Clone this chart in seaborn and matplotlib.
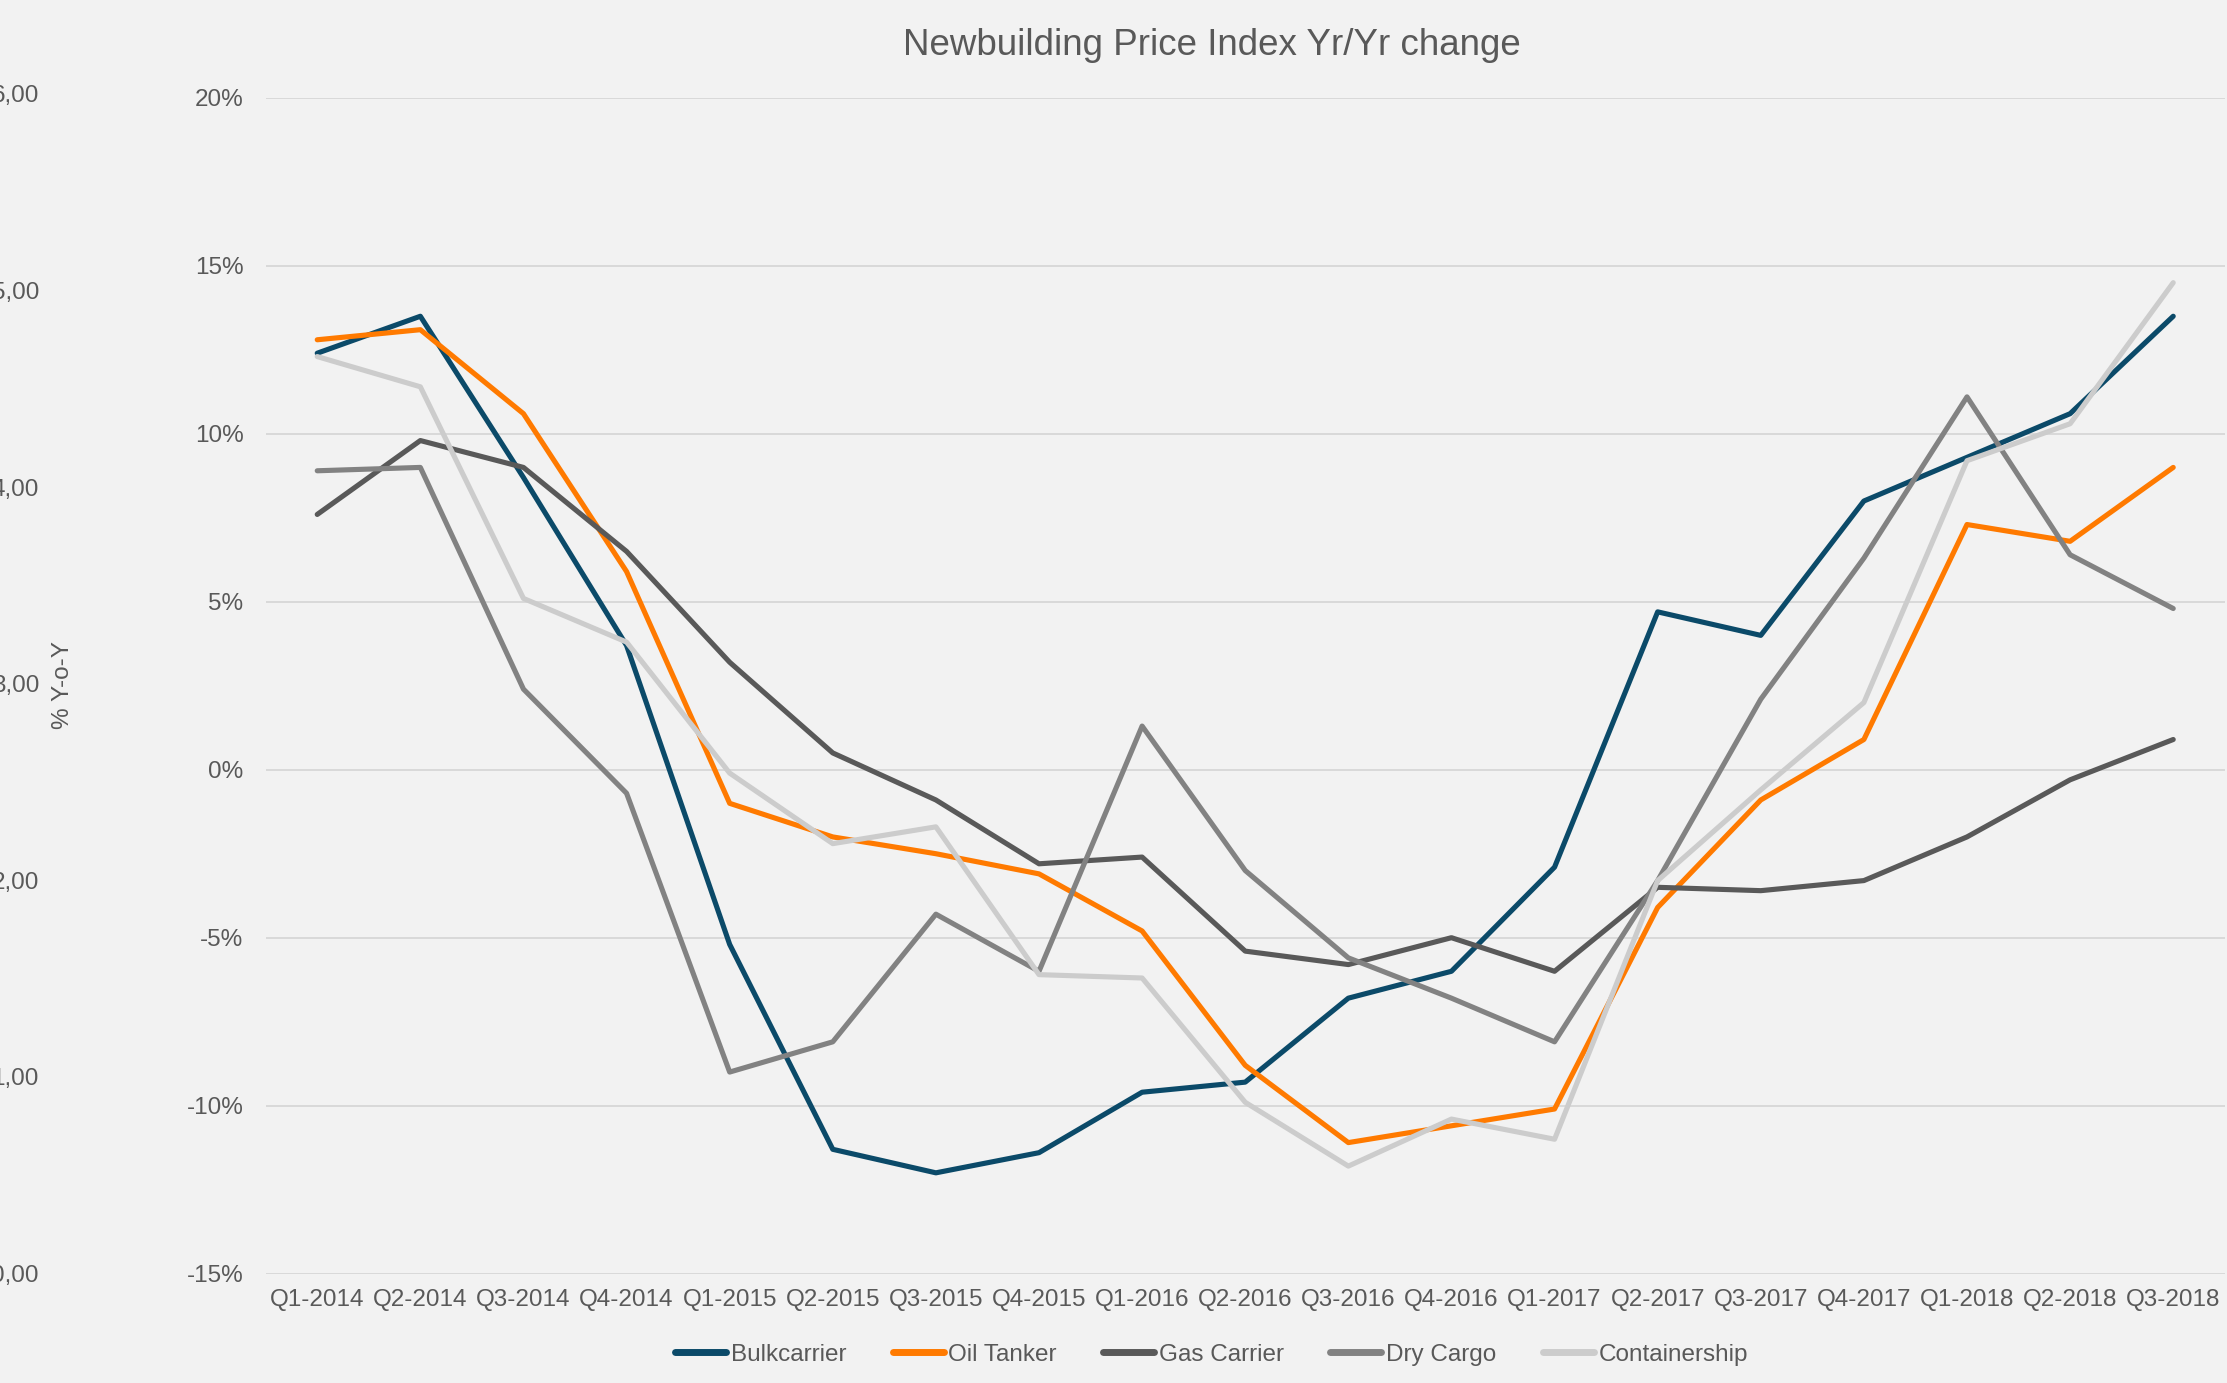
import matplotlib
matplotlib.use("Agg")
import matplotlib.pyplot as plt
import matplotlib.ticker as mticker
import pandas as pd
import seaborn as sns

quarters = [
    "Q1-2014", "Q2-2014", "Q3-2014", "Q4-2014",
    "Q1-2015", "Q2-2015", "Q3-2015", "Q4-2015",
    "Q1-2016", "Q2-2016", "Q3-2016", "Q4-2016",
    "Q1-2017", "Q2-2017", "Q3-2017", "Q4-2017",
    "Q1-2018", "Q2-2018", "Q3-2018",
]

bulkcarrier = [12.4, 13.5, 8.7, 3.7, -5.2, -11.3, -12.0, -11.4, -9.6, -9.3, -6.8, -6.0,
               -2.9, 4.7, 4.0, 8.0, 9.3, 10.6, 13.5]
oil_tanker = [12.8, 13.1, 10.6, 5.9, -1.0, -2.0, -2.5, -3.1, -4.8, -8.8, -11.1, -10.6,
              -10.1, -4.1, -0.9, 0.9, 7.3, 6.8, 9.0]
gas_carrier = [7.6, 9.8, 9.0, 6.5, 3.2, 0.5, -0.9, -2.8, -2.6, -5.4, -5.8, -5.0,
               -6.0, -3.5, -3.6, -3.3, -2.0, -0.3, 0.9]
dry_cargo = [8.9, 9.0, 2.4, -0.7, -9.0, -8.1, -4.3, -6.0, 1.3, -3.0, -5.6, -6.8,
             -8.1, -3.3, 2.1, 6.3, 11.1, 6.4, 4.8]
containership = [12.3, 11.4, 5.1, 3.8, -0.1, -2.2, -1.7, -6.1, -6.2, -9.9, -11.8, -10.4,
                 -11.0, -3.3, -0.6, 2.0, 9.2, 10.3, 14.5]

series_names = ["Bulkcarrier", "Oil Tanker", "Gas Carrier", "Dry Cargo", "Containership"]
series_values = [bulkcarrier, oil_tanker, gas_carrier, dry_cargo, containership]
colors = ["#0B4A69", "#FF7A00", "#595959", "#828282", "#CCCCCC"]

index_ticks = [0, 1, 2, 3, 4, 5, 6]

df = pd.DataFrame(
    [(q, name, v) for name, vals in zip(series_names, series_values) for q, v in zip(quarters, vals)],
    columns=["Quarter", "Series", "Value"],
)

sns.set_style("white")
plt.rcParams["font.family"] = ["Liberation Sans", "DejaVu Sans"]
text_color = "#595959"
bg = "#F2F2F2"

fig = plt.figure(figsize=(22.27, 13.83), dpi=100, facecolor=bg)
ax = fig.add_axes([0.1193, 0.0791, 0.8797, 0.8501])
ax.set_facecolor(bg)

sns.lineplot(
    data=df, x="Quarter", y="Value", hue="Series", hue_order=series_names,
    palette=dict(zip(series_names, colors)), linewidth=3.7, sort=False,
    legend=False, ax=ax,
)
for line in ax.get_lines():
    line.set_solid_capstyle("round")
    line.set_solid_joinstyle("round")

ax.set_xlim(-0.5, len(quarters) - 0.5)
ax.set_ylim(-15, 20)
ax.yaxis.set_major_locator(mticker.MultipleLocator(5))
ax.yaxis.set_major_formatter(mticker.FuncFormatter(lambda v, p: f"{v:.0f}%"))
ax.grid(axis="y", color="#D9D9D9", linewidth=1.4)
ax.set_axisbelow(True)
for s in ax.spines.values():
    s.set_visible(False)
ax.tick_params(axis="y", length=0, pad=16, labelsize=17.5, labelcolor=text_color)
ax.tick_params(axis="x", length=0, pad=11, labelsize=17.5, labelcolor=text_color)
ax.set_xlabel("")
ax.set_ylabel("")

# secondary index axis, cut off at the left edge
ax2 = fig.add_axes([0.0200, 0.0791, 0.0005, 0.8531])
ax2.set_facecolor("none")
ax2.set_ylim(0, 6)
ax2.set_yticks(index_ticks)
ax2.yaxis.set_major_formatter(mticker.FuncFormatter(lambda v, p: f"{v:.2f}".replace(".", ",")))
ax2.set_xticks([])
for s in ax2.spines.values():
    s.set_visible(False)
ax2.tick_params(axis="y", length=0, pad=4, labelsize=17.5, labelcolor=text_color)

fig.text(0.0283, 0.505, "% Y-o-Y", rotation=90, ha="center", va="center",
         fontsize=17.5, color=text_color)

fig.text(0.544, 0.967, "Newbuilding Price Index Yr/Yr change", ha="center", va="center",
         fontsize=26.5, color=text_color)

handles = [plt.Line2D([], [], color=c, linewidth=5, solid_capstyle="round") for c in colors]
fig.legend(handles, series_names, loc="center", bbox_to_anchor=(0.544, 0.0205), ncol=5,
           frameon=False, fontsize=17.5, labelcolor=text_color, handlelength=2.1,
           handletextpad=0.2, columnspacing=1.9)

fig.savefig("out.png", dpi=100, facecolor=bg)
